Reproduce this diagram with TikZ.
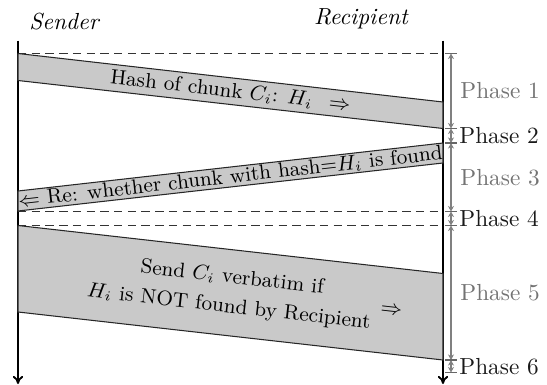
\documentclass[tikz,border=0pt]{standalone}
\usetikzlibrary{arrows.meta,calc}
\begin{document}
\begin{tikzpicture}[x=0.43pt,y=-0.43pt,
  lifeline/.style={line width=0.8pt,-{To[length=3.5pt,width=4.5pt]}},
  band/.style={draw=black!85,line width=0.45pt,fill=black!21},
  sep/.style={dash pattern=on 3.6pt off 2.3pt,line width=0.5pt,draw=black!80},
  span/.style={draw=black!50,line width=0.45pt,
    {Stealth[length=2.4pt,width=2.6pt]}-{Stealth[length=2.4pt,width=2.6pt]}},
  tick/.style={draw=black!60,line width=0.45pt},
  oddlabel/.style={anchor=west,text=black!55,inner sep=0pt},
  evenlabel/.style={anchor=west,text=black!90,inner sep=0pt},
  actor/.style={font=\itshape,inner sep=0pt},
  msg/.style={sloped,inner sep=0pt,font=\fontsize{8.9}{12.8}\selectfont}]
\useasboundingbox (0,0) rectangle (547,385);

% party names and their time lines
\node[actor] (sender) at (64,22) {Sender};
\node[actor] (recipient) at (361,19) {Recipient};
\coordinate (sTop) at (18,40.5);
\coordinate (sBot) at (18,384);
\coordinate (rTop) at (443,40.5);
\coordinate (rBot) at (443,384);
\draw[lifeline] (sTop) -- (sBot);
\draw[lifeline] (rTop) -- (rBot);

% phase boundaries on the sender and recipient lines
\coordinate (sB0) at (18,53.5);   \coordinate (rB0) at (443,53.5);
\coordinate (sB3) at (18,211.5);  \coordinate (rB3) at (443,211.5);
\coordinate (sB4) at (18,225.5);  \coordinate (rB4) at (443,225.5);
\draw[sep] (sB0) -- (rB0);
\draw[sep] (sB3) -- (rB3);
\draw[sep] (sB4) -- (rB4);

% message 1: hash of the chunk
\coordinate (h1) at (18,53.5);  \coordinate (h2) at (443,102);
\coordinate (h3) at (443,128.5); \coordinate (h4) at (18,80.5);
\draw[band] (h1) -- (h2) -- (h3) -- (h4) -- cycle;
\path ($(h1)!0.5!(h4)$) -- ($(h2)!0.5!(h3)$)
  node[msg,pos=0.5] (m1) {Hash of chunk $C_i$: $H_i$\hspace{0.8em}$\Rightarrow$};

% message 2: reply
\coordinate (q1) at (443,143);  \coordinate (q2) at (443,163);
\coordinate (q3) at (18,211);   \coordinate (q4) at (18,191);
\draw[band] (q1) -- (q2) -- (q3) -- (q4) -- cycle;
\path ($(q4)!0.5!(q3)$) -- ($(q1)!0.5!(q2)$)
  node[msg,pos=0.5] (m2) {$\Leftarrow$ Re: whether chunk with hash=$H_i$ is found};

% message 3: the chunk itself
\coordinate (v1) at (18,225.5); \coordinate (v2) at (443,273.5);
\coordinate (v3) at (443,360);  \coordinate (v4) at (18,312);
\draw[band] (v1) -- (v2) -- (v3) -- (v4) -- cycle;
\path ($(v1)!0.5!(v4)$) -- ($(v2)!0.5!(v3)$)
  node[msg,pos=0.5,align=center] (m3) {Send $C_i$ verbatim if\\$H_i$ is NOT found by Recipient}
  node[msg,pos=0.878] (m3arrow) {$\Rightarrow$};

% phase ruler
\coordinate (p0) at (451,53.5);
\coordinate (p1) at (451,128.5);
\coordinate (p2) at (451,143);
\coordinate (p3) at (451,211.5);
\coordinate (p4) at (451,225.5);
\coordinate (p5) at (451,360);
\coordinate (p6) at (451,372.5);
\foreach \a/\b in {0/1,1/2,2/3,3/4,4/5,5/6}{
  \draw[span] (p\a) -- (p\b);
}
\foreach \i in {0,...,6}{
  \draw[tick] ($(p\i)+(-6,0)$) -- ($(p\i)+(6,0)$);
}
\node[oddlabel]  (ph1) at ($(p0)!0.5!(p1)+(9,0)$) {Phase 1};
\node[evenlabel] (ph2) at ($(p1)!0.5!(p2)+(8,0)$) {Phase 2};
\node[oddlabel]  (ph3) at ($(p2)!0.5!(p3)+(9,0)$) {Phase 3};
\node[evenlabel] (ph4) at ($(p3)!0.5!(p4)+(8,0)$) {Phase 4};
\node[oddlabel]  (ph5) at ($(p4)!0.5!(p5)+(9,0)$) {Phase 5};
\node[evenlabel] (ph6) at ($(p5)!0.5!(p6)+(8,0)$) {Phase 6};
\end{tikzpicture}
\end{document}
